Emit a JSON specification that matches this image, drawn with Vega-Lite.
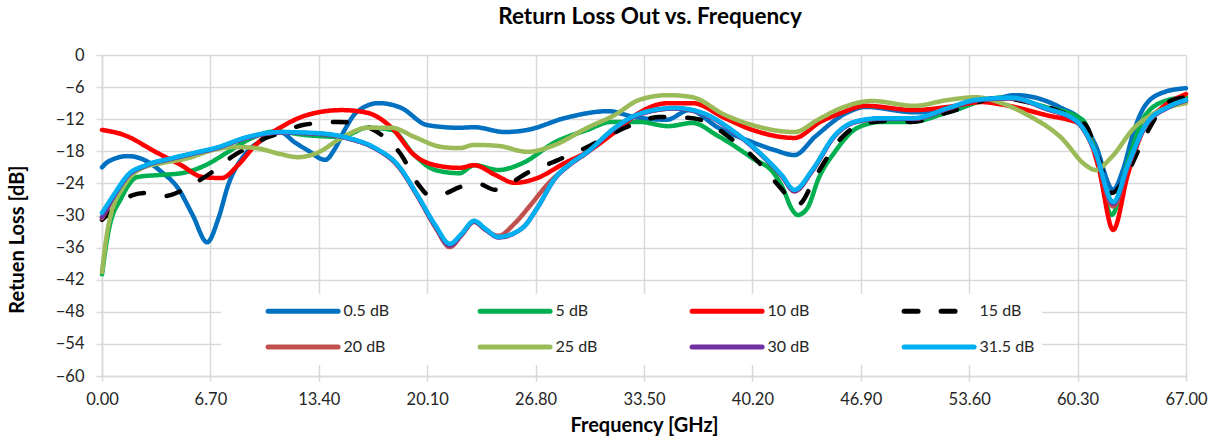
{
"$schema":"https://vega.github.io/schema/vega-lite/v6.json",
"width":1084,"height":321,
"autosize":{"type":"none"},
"padding":{"left":102,"top":55,"right":29,"bottom":65},
"background":"white",
"title":{"text":"Return Loss Out vs. Frequency","fontSize":22.5,"font":"Lato","fontWeight":"bold","color":"#000000","offset":19,"anchor":"middle","dx":6},
"config":{"font":"Lato","view":{"stroke":null},
 "axis":{"gridColor":"#d9d9d9","gridWidth":1.5,"domainColor":"#d9d9d9","domainWidth":1.5,"tickColor":"#d9d9d9","tickWidth":1.5,"labelFontSize":16.5,"labelColor":"#262626","labelFont":"Lato","titleFont":"Lato","titleFontWeight":"bold","titleColor":"#000000","labelFlush":false,"labelOverlap":false}},
"data":{"values":[
{"s":"0.5 dB","f":0,"v":-21},{"s":"0.5 dB","f":0.4,"v":-19.9},{"s":"0.5 dB","f":1.6,"v":-18.9},{"s":"0.5 dB","f":2.6,"v":-19.6},{"s":"0.5 dB","f":3.7,"v":-21.9},{"s":"0.5 dB","f":4.7,"v":-24.9},{"s":"0.5 dB","f":5.6,"v":-29.9},{"s":"0.5 dB","f":6.5,"v":-35},{"s":"0.5 dB","f":7.2,"v":-30.5},{"s":"0.5 dB","f":7.8,"v":-24.3},{"s":"0.5 dB","f":8.8,"v":-18.7},{"s":"0.5 dB","f":9.9,"v":-15.9},{"s":"0.5 dB","f":11,"v":-14.4},{"s":"0.5 dB","f":11.9,"v":-16.3},{"s":"0.5 dB","f":12.7,"v":-17.8},{"s":"0.5 dB","f":13.8,"v":-19.6},{"s":"0.5 dB","f":14.4,"v":-17.5},{"s":"0.5 dB","f":15.0,"v":-14},{"s":"0.5 dB","f":15.7,"v":-10.8},{"s":"0.5 dB","f":17.1,"v":-9.0},{"s":"0.5 dB","f":18.5,"v":-9.9},{"s":"0.5 dB","f":20.1,"v":-13.1},{"s":"0.5 dB","f":22.1,"v":-13.6},{"s":"0.5 dB","f":23,"v":-13.5},{"s":"0.5 dB","f":24.9,"v":-14.4},{"s":"0.5 dB","f":26.3,"v":-14.0},{"s":"0.5 dB","f":28.6,"v":-11.8},{"s":"0.5 dB","f":31.3,"v":-10.5},{"s":"0.5 dB","f":32.9,"v":-11.6},{"s":"0.5 dB","f":34.9,"v":-12.1},{"s":"0.5 dB","f":36.3,"v":-10.3},{"s":"0.5 dB","f":38.1,"v":-13.6},{"s":"0.5 dB","f":40.2,"v":-16.3},{"s":"0.5 dB","f":41.6,"v":-17.8},{"s":"0.5 dB","f":42.8,"v":-18.7},{"s":"0.5 dB","f":44.1,"v":-15.2},{"s":"0.5 dB","f":46.1,"v":-10.7},{"s":"0.5 dB","f":47.2,"v":-9.7},{"s":"0.5 dB","f":50.2,"v":-10.7},{"s":"0.5 dB","f":52.7,"v":-10.3},{"s":"0.5 dB","f":53.8,"v":-8.8},{"s":"0.5 dB","f":55.5,"v":-8.0},{"s":"0.5 dB","f":56.4,"v":-7.5},{"s":"0.5 dB","f":59.3,"v":-9.9},{"s":"0.5 dB","f":60.6,"v":-12.5},{"s":"0.5 dB","f":61.4,"v":-16.8},{"s":"0.5 dB","f":62.5,"v":-25.2},{"s":"0.5 dB","f":63.1,"v":-21.5},{"s":"0.5 dB","f":63.8,"v":-14},{"s":"0.5 dB","f":64.4,"v":-9.8},{"s":"0.5 dB","f":65.5,"v":-7.1},{"s":"0.5 dB","f":67,"v":-6.2},
{"s":"5 dB","f":0,"v":-41},{"s":"5 dB","f":0.4,"v":-33},{"s":"5 dB","f":1.2,"v":-26.7},{"s":"5 dB","f":2.2,"v":-22.8},{"s":"5 dB","f":3.7,"v":-22.4},{"s":"5 dB","f":4.9,"v":-22.1},{"s":"5 dB","f":6.4,"v":-20.6},{"s":"5 dB","f":7.8,"v":-18.1},{"s":"5 dB","f":9.0,"v":-15.9},{"s":"5 dB","f":10.7,"v":-14.3},{"s":"5 dB","f":12.7,"v":-15.0},{"s":"5 dB","f":14.8,"v":-15.3},{"s":"5 dB","f":16.4,"v":-13.6},{"s":"5 dB","f":17.9,"v":-14.0},{"s":"5 dB","f":19.3,"v":-18.7},{"s":"5 dB","f":20.6,"v":-21.5},{"s":"5 dB","f":22.1,"v":-22.1},{"s":"5 dB","f":23,"v":-20.6},{"s":"5 dB","f":24.5,"v":-21.5},{"s":"5 dB","f":26,"v":-20.2},{"s":"5 dB","f":28,"v":-16.3},{"s":"5 dB","f":30,"v":-14.0},{"s":"5 dB","f":31.5,"v":-12.5},{"s":"5 dB","f":33.2,"v":-12.5},{"s":"5 dB","f":35,"v":-13.3},{"s":"5 dB","f":36.5,"v":-12.7},{"s":"5 dB","f":38,"v":-15.0},{"s":"5 dB","f":40.2,"v":-19.3},{"s":"5 dB","f":41.6,"v":-22.4},{"s":"5 dB","f":42.1,"v":-25},{"s":"5 dB","f":42.6,"v":-28.6},{"s":"5 dB","f":43,"v":-29.9},{"s":"5 dB","f":43.6,"v":-28.6},{"s":"5 dB","f":44.3,"v":-23},{"s":"5 dB","f":45.3,"v":-18.1},{"s":"5 dB","f":46.7,"v":-13.6},{"s":"5 dB","f":48.2,"v":-12.5},{"s":"5 dB","f":50,"v":-12.5},{"s":"5 dB","f":52.3,"v":-10.7},{"s":"5 dB","f":55.5,"v":-8.0},{"s":"5 dB","f":58.3,"v":-9.7},{"s":"5 dB","f":60.6,"v":-12.1},{"s":"5 dB","f":61.4,"v":-18.1},{"s":"5 dB","f":62.4,"v":-29.9},{"s":"5 dB","f":63.4,"v":-20.0},{"s":"5 dB","f":64.5,"v":-11.2},{"s":"5 dB","f":65.8,"v":-8.5},{"s":"5 dB","f":67,"v":-7.9},
{"s":"10 dB","f":0,"v":-14.0},{"s":"10 dB","f":1.4,"v":-15.0},{"s":"10 dB","f":3.3,"v":-18.1},{"s":"10 dB","f":4.9,"v":-20.6},{"s":"10 dB","f":6.2,"v":-22.8},{"s":"10 dB","f":7.4,"v":-23.0},{"s":"10 dB","f":8.4,"v":-20.6},{"s":"10 dB","f":9.5,"v":-16.8},{"s":"10 dB","f":11,"v":-13.6},{"s":"10 dB","f":12.7,"v":-11.2},{"s":"10 dB","f":14.8,"v":-10.3},{"s":"10 dB","f":16.4,"v":-10.8},{"s":"10 dB","f":17.9,"v":-13.6},{"s":"10 dB","f":19.3,"v":-18.7},{"s":"10 dB","f":20.6,"v":-20.6},{"s":"10 dB","f":22.1,"v":-21.1},{"s":"10 dB","f":23,"v":-20.6},{"s":"10 dB","f":24.3,"v":-22.4},{"s":"10 dB","f":25.5,"v":-23.9},{"s":"10 dB","f":26.9,"v":-23.0},{"s":"10 dB","f":28.6,"v":-20.2},{"s":"10 dB","f":30,"v":-18.1},{"s":"10 dB","f":31.7,"v":-14.4},{"s":"10 dB","f":33.2,"v":-10.8},{"s":"10 dB","f":35,"v":-9.0},{"s":"10 dB","f":36.5,"v":-9.0},{"s":"10 dB","f":38.5,"v":-11.8},{"s":"10 dB","f":40.2,"v":-14.0},{"s":"10 dB","f":42.8,"v":-15.5},{"s":"10 dB","f":44.4,"v":-12.5},{"s":"10 dB","f":45.7,"v":-10.8},{"s":"10 dB","f":47.2,"v":-9.5},{"s":"10 dB","f":50.2,"v":-10.3},{"s":"10 dB","f":52.3,"v":-9.7},{"s":"10 dB","f":54.4,"v":-8.8},{"s":"10 dB","f":55.5,"v":-9.2},{"s":"10 dB","f":58.3,"v":-11.2},{"s":"10 dB","f":60.6,"v":-13.1},{"s":"10 dB","f":61.6,"v":-21.1},{"s":"10 dB","f":62.5,"v":-32.7},{"s":"10 dB","f":63.4,"v":-22.4},{"s":"10 dB","f":64.5,"v":-13.1},{"s":"10 dB","f":65.5,"v":-9.9},{"s":"10 dB","f":67,"v":-7.3},
{"s":"15 dB","f":0,"v":-30.8},{"s":"15 dB","f":0.8,"v":-28.6},{"s":"15 dB","f":1.9,"v":-26.2},{"s":"15 dB","f":2.7,"v":-25.8},{"s":"15 dB","f":3.8,"v":-26.4},{"s":"15 dB","f":4.9,"v":-25.4},{"s":"15 dB","f":6.1,"v":-23.3},{"s":"15 dB","f":6.8,"v":-21.9},{"s":"15 dB","f":8.0,"v":-19.1},{"s":"15 dB","f":9.3,"v":-16.8},{"s":"15 dB","f":10.1,"v":-15.5},{"s":"15 dB","f":11,"v":-14.6},{"s":"15 dB","f":12.4,"v":-13.1},{"s":"15 dB","f":14.6,"v":-12.5},{"s":"15 dB","f":15.8,"v":-12.9},{"s":"15 dB","f":17.3,"v":-15.0},{"s":"15 dB","f":18.5,"v":-18.7},{"s":"15 dB","f":19.5,"v":-24},{"s":"15 dB","f":20.3,"v":-26.3},{"s":"15 dB","f":21.1,"v":-26},{"s":"15 dB","f":22.1,"v":-24.7},{"s":"15 dB","f":23.2,"v":-24},{"s":"15 dB","f":24.3,"v":-25.2},{"s":"15 dB","f":25.4,"v":-23.7},{"s":"15 dB","f":26.3,"v":-22},{"s":"15 dB","f":27.9,"v":-20},{"s":"15 dB","f":30,"v":-17.2},{"s":"15 dB","f":32.4,"v":-13.5},{"s":"15 dB","f":34.5,"v":-11.6},{"s":"15 dB","f":36.5,"v":-11.8},{"s":"15 dB","f":39,"v":-15.9},{"s":"15 dB","f":40.6,"v":-20.1},{"s":"15 dB","f":41.9,"v":-24.7},{"s":"15 dB","f":43,"v":-28},{"s":"15 dB","f":44.2,"v":-22.2},{"s":"15 dB","f":45.7,"v":-15.5},{"s":"15 dB","f":47.2,"v":-12.7},{"s":"15 dB","f":48.8,"v":-12.3},{"s":"15 dB","f":50,"v":-12.5},{"s":"15 dB","f":52.3,"v":-10.7},{"s":"15 dB","f":55.5,"v":-8.0},{"s":"15 dB","f":57.2,"v":-8.8},{"s":"15 dB","f":59.3,"v":-10.7},{"s":"15 dB","f":60.8,"v":-13.1},{"s":"15 dB","f":61.6,"v":-19.3},{"s":"15 dB","f":62.4,"v":-25.8},{"s":"15 dB","f":63.4,"v":-21.9},{"s":"15 dB","f":64.5,"v":-15.0},{"s":"15 dB","f":65.9,"v":-8.8},{"s":"15 dB","f":67,"v":-7.9},
{"s":"20 dB","f":0,"v":-30.5},{"s":"20 dB","f":0.8,"v":-26.3},{"s":"20 dB","f":1.6,"v":-22.7},{"s":"20 dB","f":2.7,"v":-20.8},{"s":"20 dB","f":4.3,"v":-19.4},{"s":"20 dB","f":5.7,"v":-18.4},{"s":"20 dB","f":7.2,"v":-17.3},{"s":"20 dB","f":8.8,"v":-15.6},{"s":"20 dB","f":11,"v":-14.5},{"s":"20 dB","f":13.3,"v":-14.7},{"s":"20 dB","f":15.2,"v":-15.6},{"s":"20 dB","f":16.9,"v":-17.5},{"s":"20 dB","f":18.3,"v":-20.8},{"s":"20 dB","f":19.5,"v":-26.4},{"s":"20 dB","f":20.6,"v":-32.2},{"s":"20 dB","f":21.5,"v":-35.9},{"s":"20 dB","f":22.2,"v":-33.8},{"s":"20 dB","f":23,"v":-31.2},{"s":"20 dB","f":23.7,"v":-32.7},{"s":"20 dB","f":24.5,"v":-33.8},{"s":"20 dB","f":25.5,"v":-31.5},{"s":"20 dB","f":26.5,"v":-28},{"s":"20 dB","f":27.5,"v":-24.3},{"s":"20 dB","f":29,"v":-20.3},{"s":"20 dB","f":30,"v":-18.2},{"s":"20 dB","f":31.7,"v":-13.7},{"s":"20 dB","f":33.2,"v":-11.1},{"s":"20 dB","f":35.4,"v":-10.0},{"s":"20 dB","f":37.1,"v":-10.9},{"s":"20 dB","f":39.1,"v":-14.5},{"s":"20 dB","f":40.8,"v":-18.8},{"s":"20 dB","f":42,"v":-22.6},{"s":"20 dB","f":42.8,"v":-25.5},{"s":"20 dB","f":43.9,"v":-21.7},{"s":"20 dB","f":45.3,"v":-15.1},{"s":"20 dB","f":46.5,"v":-12.6},{"s":"20 dB","f":48.2,"v":-11.9},{"s":"20 dB","f":50.2,"v":-11.9},{"s":"20 dB","f":52.3,"v":-10.0},{"s":"20 dB","f":54,"v":-8.5},{"s":"20 dB","f":56.2,"v":-8.1},{"s":"20 dB","f":58.3,"v":-10.0},{"s":"20 dB","f":60.3,"v":-12.6},{"s":"20 dB","f":61.4,"v":-18.4},{"s":"20 dB","f":62.5,"v":-28.3},{"s":"20 dB","f":63.4,"v":-21},{"s":"20 dB","f":64.5,"v":-13.3},{"s":"20 dB","f":65.9,"v":-9.8},{"s":"20 dB","f":67,"v":-8.5},
{"s":"25 dB","f":0,"v":-40.6},{"s":"25 dB","f":0.4,"v":-31.8},{"s":"25 dB","f":1.4,"v":-24.3},{"s":"25 dB","f":2.5,"v":-21.1},{"s":"25 dB","f":3.7,"v":-20.2},{"s":"25 dB","f":5.3,"v":-19.3},{"s":"25 dB","f":6.8,"v":-17.8},{"s":"25 dB","f":8.2,"v":-17.2},{"s":"25 dB","f":9.5,"v":-17.4},{"s":"25 dB","f":11,"v":-18.5},{"s":"25 dB","f":12.1,"v":-19.1},{"s":"25 dB","f":13.3,"v":-18.3},{"s":"25 dB","f":14.8,"v":-15.5},{"s":"25 dB","f":16.4,"v":-13.6},{"s":"25 dB","f":17.9,"v":-13.6},{"s":"25 dB","f":19.3,"v":-15.3},{"s":"25 dB","f":21,"v":-17.2},{"s":"25 dB","f":22.1,"v":-17.4},{"s":"25 dB","f":23,"v":-16.8},{"s":"25 dB","f":24.5,"v":-17.0},{"s":"25 dB","f":26.3,"v":-18.1},{"s":"25 dB","f":28,"v":-16.8},{"s":"25 dB","f":30,"v":-13.6},{"s":"25 dB","f":31.7,"v":-11.2},{"s":"25 dB","f":33.2,"v":-8.4},{"s":"25 dB","f":35,"v":-7.5},{"s":"25 dB","f":36.5,"v":-7.9},{"s":"25 dB","f":38.5,"v":-11.2},{"s":"25 dB","f":40.2,"v":-13.1},{"s":"25 dB","f":42.8,"v":-14.4},{"s":"25 dB","f":44.3,"v":-12},{"s":"25 dB","f":45.7,"v":-9.9},{"s":"25 dB","f":47.6,"v":-8.6},{"s":"25 dB","f":50.2,"v":-9.5},{"s":"25 dB","f":52.3,"v":-8.4},{"s":"25 dB","f":54,"v":-7.9},{"s":"25 dB","f":55.6,"v":-9.0},{"s":"25 dB","f":57.2,"v":-11.2},{"s":"25 dB","f":59.3,"v":-15.5},{"s":"25 dB","f":60.8,"v":-20.6},{"s":"25 dB","f":61.4,"v":-21.5},{"s":"25 dB","f":62.4,"v":-19.1},{"s":"25 dB","f":63.8,"v":-13.6},{"s":"25 dB","f":65.1,"v":-10.8},{"s":"25 dB","f":67,"v":-9.0},
{"s":"30 dB","f":0,"v":-30.3},{"s":"30 dB","f":0.8,"v":-26.1},{"s":"30 dB","f":1.6,"v":-22.6},{"s":"30 dB","f":2.7,"v":-20.7},{"s":"30 dB","f":4.3,"v":-19.4},{"s":"30 dB","f":5.7,"v":-18.4},{"s":"30 dB","f":7.2,"v":-17.3},{"s":"30 dB","f":8.8,"v":-15.6},{"s":"30 dB","f":11,"v":-14.5},{"s":"30 dB","f":13.3,"v":-14.7},{"s":"30 dB","f":15.2,"v":-15.6},{"s":"30 dB","f":16.9,"v":-17.5},{"s":"30 dB","f":18.3,"v":-20.7},{"s":"30 dB","f":19.5,"v":-26.3},{"s":"30 dB","f":20.6,"v":-32},{"s":"30 dB","f":21.5,"v":-35.6},{"s":"30 dB","f":22.2,"v":-33.6},{"s":"30 dB","f":23,"v":-31.1},{"s":"30 dB","f":23.7,"v":-32.6},{"s":"30 dB","f":24.5,"v":-34.1},{"s":"30 dB","f":26,"v":-32.3},{"s":"30 dB","f":26.9,"v":-28.6},{"s":"30 dB","f":28,"v":-23.1},{"s":"30 dB","f":29,"v":-20.3},{"s":"30 dB","f":30,"v":-18.2},{"s":"30 dB","f":31.7,"v":-13.7},{"s":"30 dB","f":33.2,"v":-11.1},{"s":"30 dB","f":35.4,"v":-10.0},{"s":"30 dB","f":37.1,"v":-10.9},{"s":"30 dB","f":39.1,"v":-14.5},{"s":"30 dB","f":40.8,"v":-18.8},{"s":"30 dB","f":42,"v":-22.5},{"s":"30 dB","f":42.8,"v":-25.4},{"s":"30 dB","f":43.9,"v":-21.6},{"s":"30 dB","f":45.3,"v":-15.1},{"s":"30 dB","f":46.5,"v":-12.6},{"s":"30 dB","f":48.2,"v":-11.9},{"s":"30 dB","f":50.2,"v":-11.9},{"s":"30 dB","f":52.3,"v":-10.0},{"s":"30 dB","f":54,"v":-8.5},{"s":"30 dB","f":56.2,"v":-8.1},{"s":"30 dB","f":58.3,"v":-10.0},{"s":"30 dB","f":60.3,"v":-12.6},{"s":"30 dB","f":61.4,"v":-18.2},{"s":"30 dB","f":62.5,"v":-27.8},{"s":"30 dB","f":63.4,"v":-20.8},{"s":"30 dB","f":64.5,"v":-13.2},{"s":"30 dB","f":65.9,"v":-9.8},{"s":"30 dB","f":67,"v":-8.5},
{"s":"31.5 dB","f":0,"v":-29.5},{"s":"31.5 dB","f":0.8,"v":-25.8},{"s":"31.5 dB","f":1.6,"v":-22.4},{"s":"31.5 dB","f":2.7,"v":-20.6},{"s":"31.5 dB","f":4.3,"v":-19.3},{"s":"31.5 dB","f":5.7,"v":-18.3},{"s":"31.5 dB","f":7.2,"v":-17.2},{"s":"31.5 dB","f":8.8,"v":-15.5},{"s":"31.5 dB","f":11,"v":-14.4},{"s":"31.5 dB","f":13.3,"v":-14.6},{"s":"31.5 dB","f":15.2,"v":-15.5},{"s":"31.5 dB","f":16.9,"v":-17.4},{"s":"31.5 dB","f":18.3,"v":-20.6},{"s":"31.5 dB","f":19.5,"v":-26.2},{"s":"31.5 dB","f":20.6,"v":-31.8},{"s":"31.5 dB","f":21.5,"v":-35.3},{"s":"31.5 dB","f":22.2,"v":-33.5},{"s":"31.5 dB","f":23,"v":-31.0},{"s":"31.5 dB","f":23.7,"v":-32.5},{"s":"31.5 dB","f":24.5,"v":-34.0},{"s":"31.5 dB","f":26,"v":-32.3},{"s":"31.5 dB","f":26.9,"v":-28.6},{"s":"31.5 dB","f":28,"v":-23.0},{"s":"31.5 dB","f":29,"v":-20.2},{"s":"31.5 dB","f":30,"v":-18.1},{"s":"31.5 dB","f":31.7,"v":-13.6},{"s":"31.5 dB","f":33.2,"v":-11.0},{"s":"31.5 dB","f":35.4,"v":-9.9},{"s":"31.5 dB","f":37.1,"v":-10.8},{"s":"31.5 dB","f":39.1,"v":-14.4},{"s":"31.5 dB","f":40.8,"v":-18.7},{"s":"31.5 dB","f":42,"v":-22.4},{"s":"31.5 dB","f":42.8,"v":-25.2},{"s":"31.5 dB","f":43.9,"v":-21.5},{"s":"31.5 dB","f":45.3,"v":-15.0},{"s":"31.5 dB","f":46.5,"v":-12.5},{"s":"31.5 dB","f":48.2,"v":-11.8},{"s":"31.5 dB","f":50.2,"v":-11.8},{"s":"31.5 dB","f":52.3,"v":-9.9},{"s":"31.5 dB","f":54,"v":-8.4},{"s":"31.5 dB","f":56.2,"v":-8.0},{"s":"31.5 dB","f":58.3,"v":-9.9},{"s":"31.5 dB","f":60.3,"v":-12.5},{"s":"31.5 dB","f":61.4,"v":-18.1},{"s":"31.5 dB","f":62.5,"v":-27.5},{"s":"31.5 dB","f":63.4,"v":-20.6},{"s":"31.5 dB","f":64.5,"v":-13.1},{"s":"31.5 dB","f":65.9,"v":-9.7},{"s":"31.5 dB","f":67,"v":-8.4}
]},
"mark":{"type":"line","interpolate":"monotone","strokeWidth":4.5,"strokeCap":"round","strokeJoin":"round"},
"encoding":{
 "x":{"field":"f","type":"quantitative","scale":{"domain":[0,67],"nice":false,"zero":false},
  "axis":{"values":[0,6.7,13.4,20.1,26.8,33.5,40.2,46.9,53.6,60.3,67],"format":".2f","title":"Frequency [GHz]","titleFontSize":20,"tickSize":5,"labelPadding":10,"titlePadding":8}},
 "y":{"field":"v","type":"quantitative","scale":{"domain":[-60,0],"nice":false,"zero":false},
  "axis":{"values":[-60,-54,-48,-42,-36,-30,-24,-18,-12,-6,0],"title":"Retuen Loss [dB]","titleFontSize":20,"titleY":184,"tickSize":6,"labelPadding":12,"titlePadding":28}},
 "color":{"field":"s","type":"nominal",
  "scale":{"domain":["0.5 dB","5 dB","10 dB","15 dB","20 dB","25 dB","30 dB","31.5 dB"],"range":["#0070C0","#00B050","#FF0000","#000000","#C0504D","#9BBB59","#7030A0","#00B0F0"]},
  "legend":{"title":null,"orient":"none","legendX":119,"legendY":239,"direction":"horizontal","columns":4,"fillColor":"white","padding":7.5,"symbolType":"M4.3,0H14.3","symbolSize":196,"symbolStrokeWidth":5,"labelFontSize":16,"labelColor":"#262626","labelFont":"Lato","columnPadding":42,"rowPadding":15,"gridAlign":"all","labelOffset":96,"labelLimit":200,"encode":{"symbols":{"update":{"strokeCap":{"value":"round"},"strokeDash":{"signal":"datum.value === '15 dB' ? [21,17] : [1,0]"}}}}}},
 "strokeDash":{"field":"s","type":"nominal",
  "scale":{"domain":["0.5 dB","5 dB","10 dB","15 dB","20 dB","25 dB","30 dB","31.5 dB"],"range":[[1,0],[1,0],[1,0],[14,23],[1,0],[1,0],[1,0],[1,0]]},
  "legend":{"title":null,"orient":"none","legendX":119,"legendY":239,"direction":"horizontal","columns":4,"fillColor":"white","padding":7.5,"symbolType":"M4.3,0H14.3","symbolSize":196,"symbolStrokeWidth":5,"labelFontSize":16,"labelColor":"#262626","labelFont":"Lato","columnPadding":42,"rowPadding":15,"gridAlign":"all","labelOffset":96,"labelLimit":200,"encode":{"symbols":{"update":{"strokeCap":{"value":"round"},"strokeDash":{"signal":"datum.value === '15 dB' ? [21,17] : [1,0]"}}}}}}
}
}
